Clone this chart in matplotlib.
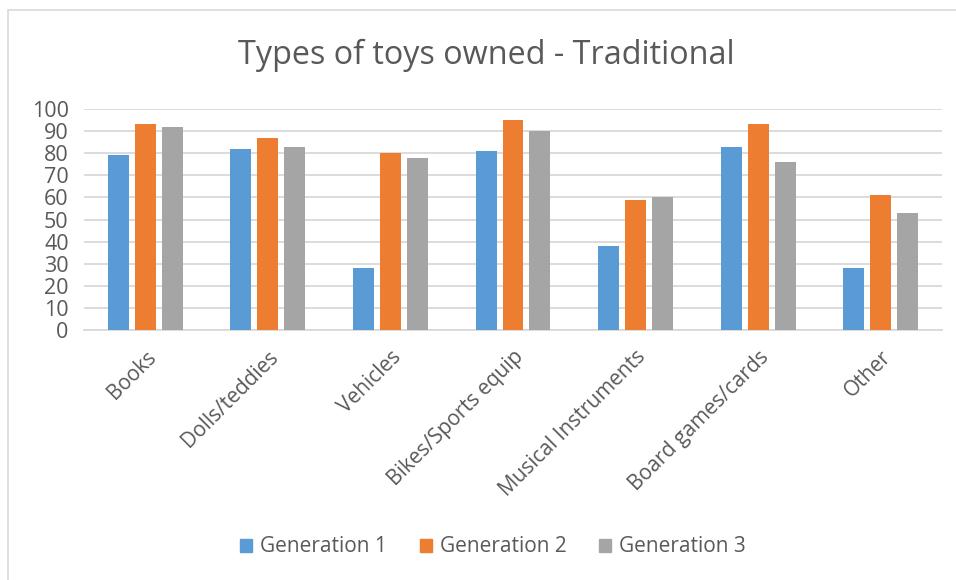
import matplotlib.pyplot as plt
import matplotlib.patches as mpatches
import numpy as np

plt.rcParams['font.family'] = ['Open Sans', 'DejaVu Sans']

# toy categories and share owned per generation
categories = ['Books', 'Dolls/teddies', 'Vehicles', 'Bikes/Sports equip',
              'Musical Instruments', 'Board games/cards', 'Other']
gen1 = [79, 82, 28, 81, 38, 83, 28]
gen2 = [93, 87, 80, 95, 59, 93, 61]
gen3 = [92, 83, 78, 90, 60, 76, 53]
series_names = ['Generation 1', 'Generation 2', 'Generation 3']
yticks = [0, 10, 20, 30, 40, 50, 60, 70, 80, 90, 100]

colors = ['#5b9bd5', '#ed7d31', '#a5a5a5']
text_col = '#595959'
grid_col = '#d9d9d9'

fig = plt.figure(figsize=(9.56, 5.8), dpi=100)
ax = fig.add_axes([84 / 956, 1 - 330 / 580, (942 - 84) / 956, (330 - 109) / 580])

# chart area frame
fig.patches.append(mpatches.Rectangle((8 / 956, -0.05), 1.2, 1 - 10 / 580 + 0.05,
                                      transform=fig.transFigure, fill=False,
                                      edgecolor=grid_col, linewidth=1.2))

x = np.arange(len(categories))
width = 0.171
step = 0.22
for i, (vals, name) in enumerate(zip([gen1, gen2, gen3], series_names)):
    ax.bar(x + (i - 1) * step, vals, width, color=colors[i], label=name, zorder=3)

ax.set_xlim(-0.5, len(categories) - 0.5)
ax.set_ylim(0, 100)
ax.set_yticks(yticks)
ax.set_yticklabels([str(t) for t in yticks], fontsize=15.5, color=text_col)
ax.tick_params(axis='y', length=0, pad=11)
ax.tick_params(axis='x', length=0, pad=12)
ax.yaxis.grid(True, color=grid_col, linewidth=1.3, zorder=0)
ax.set_axisbelow(True)
for side in ['top', 'right', 'left']:
    ax.spines[side].set_visible(False)
ax.spines['bottom'].set_color(grid_col)
ax.spines['bottom'].set_linewidth(1.3)

ax.set_xticks(x)
ax.set_xticklabels(categories, rotation=45, ha='right', va='top',
                   rotation_mode='anchor', fontsize=15, color=text_col)

fig.text(486 / 956, 1 - 55 / 580, 'Types of toys owned - Traditional',
         ha='center', va='center', fontsize=23.3, color=text_col)

handles = [mpatches.Patch(color=c) for c in colors]
fig.legend(handles, series_names, loc='center', bbox_to_anchor=(493 / 956, 1 - 547 / 580),
           ncol=3, frameon=False, fontsize=15, labelcolor=text_col,
           handlelength=0.58, handleheight=0.58, handletextpad=0.39, columnspacing=1.55)

fig.savefig('out.png', dpi=100)
